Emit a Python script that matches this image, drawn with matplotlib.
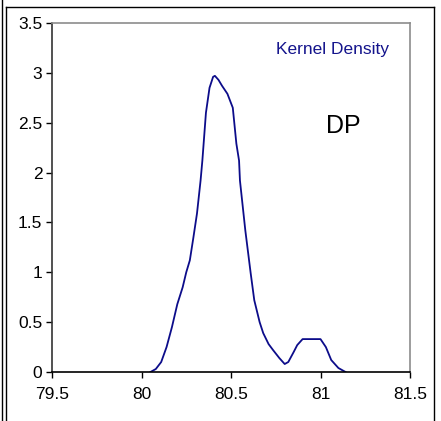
import matplotlib.pyplot as plt
from matplotlib.lines import Line2D

# kernel density estimate of DP (read from the original output)
dp_x = [80.05, 80.08, 80.11, 80.14, 80.17, 80.20, 80.23, 80.25, 80.27, 80.29,
        80.31, 80.33, 80.34, 80.36, 80.38, 80.40, 80.41, 80.43, 80.45, 80.48,
        80.51, 80.53, 80.545, 80.55, 80.58, 80.61, 80.63, 80.66, 80.68, 80.71,
        80.735, 80.77, 80.80, 80.82, 80.85, 80.87, 80.90, 80.95, 81.00, 81.03,
        81.06, 81.10, 81.14]
dp_y = [0.00, 0.03, 0.10, 0.25, 0.45, 0.68, 0.85, 1.00, 1.12, 1.35,
        1.59, 1.92, 2.12, 2.60, 2.85, 2.96, 2.97, 2.93, 2.87, 2.79,
        2.65, 2.29, 2.12, 1.92, 1.42, 0.99, 0.72, 0.50, 0.39, 0.28,
        0.22, 0.14, 0.08, 0.10, 0.20, 0.27, 0.33, 0.33, 0.33, 0.25,
        0.12, 0.04, 0.00]

x_ticks = [79.5, 80, 80.5, 81, 81.5]
x_labels = ['79.5', '80', '80.5', '81', '81.5']
y_ticks = [0, 0.5, 1, 1.5, 2, 2.5, 3, 3.5]
y_labels = ['0', '0.5', '1', '1.5', '2', '2.5', '3', '3.5']

plt.rcParams['font.family'] = ['Liberation Sans', 'DejaVu Sans']

W, H = 441, 421
fig = plt.figure(figsize=(W / 100, H / 100), dpi=100)
ax = fig.add_axes([52 / W, 1 - 372 / H, (410 - 52) / W, (372 - 23) / H])

ax.plot(dp_x, dp_y, color='#0c0c8a', lw=1.3)

ax.set_xlim(79.5, 81.5)
ax.set_ylim(0, 3.5)
ax.set_xticks(x_ticks)
ax.set_xticklabels(x_labels)
ax.set_yticks(y_ticks)
ax.set_yticklabels(y_labels)
ax.tick_params(direction='out', length=4, width=1, labelsize=12.5, pad=3)
ax.tick_params(axis='x', pad=7)

ax.spines['left'].set_color('#333333')
ax.spines['bottom'].set_color('black')
ax.spines['top'].set_color('#8c8c8c')
ax.spines['right'].set_color('#8c8c8c')
for s in ax.spines.values():
    s.set_linewidth(1.2)

ax.text(0.942, 0.925, 'Kernel Density', transform=ax.transAxes, ha='right',
        va='center', fontsize=12.5, color='#14148c')
ax.text(0.815, 0.705, 'DP', transform=ax.transAxes, ha='center',
        va='center', fontsize=18, color='black')

# double frame round the chart
def px(x, y):
    return x / W, 1 - y / H

for (x0, y0), (x1, y1) in [((1.5, 0), (1.5, H)),
                           ((5.5, 7), (5.5, H)),
                           ((5.5, 7), (433.5, 7)),
                           ((433.5, 7), (433.5, H))]:
    a, b = px(x0, y0)
    c, d = px(x1, y1)
    fig.add_artist(Line2D([a, c], [b, d], color='black', lw=1.0))

fig.savefig('out.png', dpi=100)
